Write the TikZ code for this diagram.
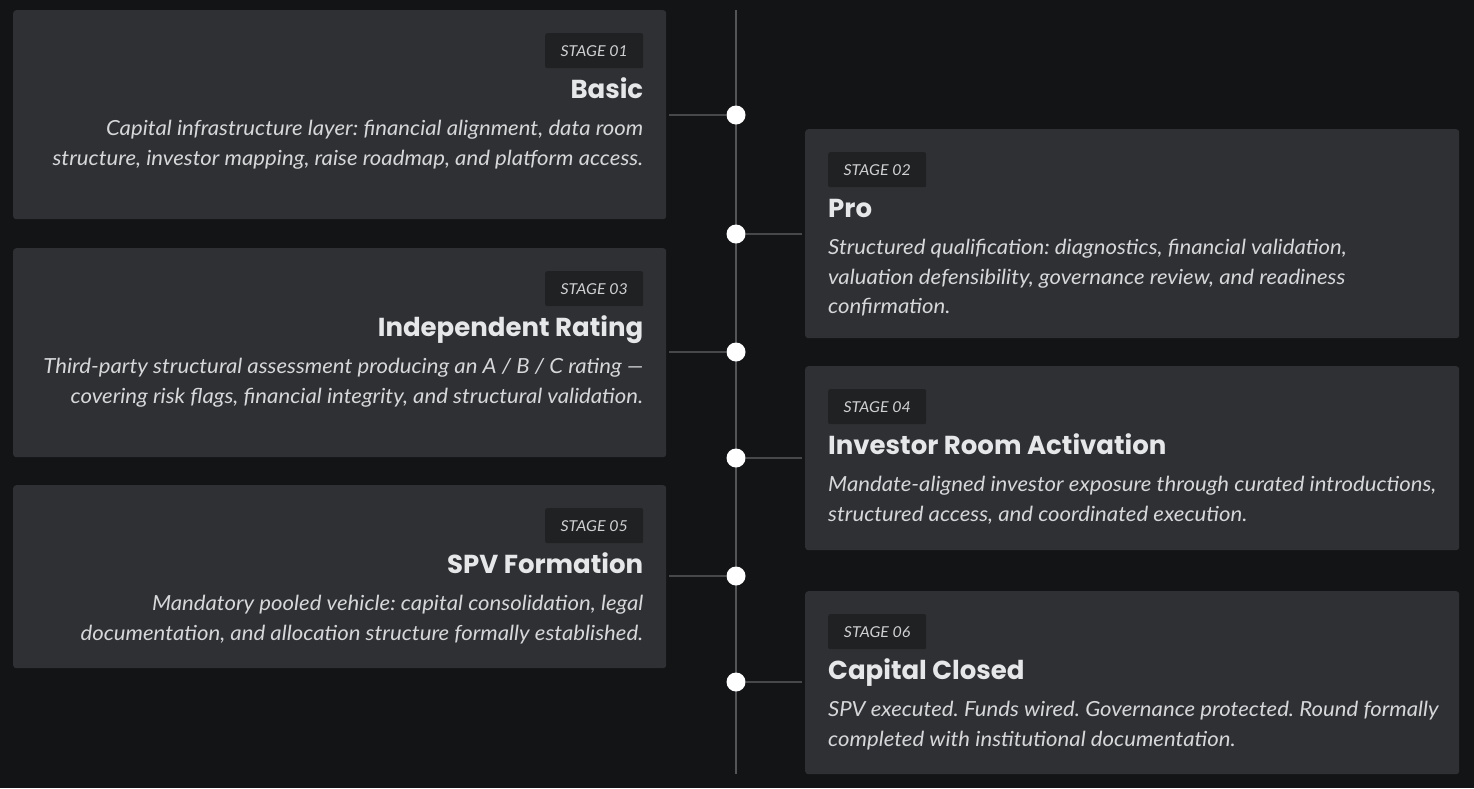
\documentclass[tikz,border=0pt]{standalone}
\usepackage{fontspec}
\setmainfont{Lato}[FakeStretch=1.066]
\newfontfamily\headfont{Poppins}
\usetikzlibrary{positioning}
\definecolor{pagebg}{HTML}{131416}
\definecolor{cardgray}{HTML}{2F3033}
\definecolor{badgegray}{HTML}{202123}
\definecolor{linkgray}{HTML}{47484A}
\definecolor{railgray}{HTML}{545557}
\definecolor{headwhite}{HTML}{E6E7E9}
\definecolor{bodygray}{HTML}{D6D7D9}
\definecolor{badgetext}{HTML}{CFD0D2}
\frenchspacing

\tikzset{
  card/.style={fill=cardgray, rounded corners=3pt, inner sep=0pt, anchor=north west},
  badge/.style={fill=badgegray, rounded corners=2pt, minimum width=98pt, minimum height=35pt,
    inner sep=0pt, text=badgetext, font=\fontsize{15}{18}\selectfont\itshape},
  heading/.style={text=headwhite, inner sep=0pt, font=\headfont\bfseries\fontsize{26}{30}\selectfont},
  blurb/.style={text=bodygray, inner sep=0pt, font=\fontsize{20.8}{29.5}\selectfont\itshape},
  dot/.style={circle, fill=white, minimum size=19pt, inner sep=0pt},
  link/.style={draw=linkgray, line width=2pt}
}

\begin{document}
\begin{tikzpicture}[x=1pt, y=-1pt]
\fill[pagebg] (0,0) rectangle (1474,788);
\useasboundingbox (0,0) rectangle (1474,788);

% cards
\node[card, minimum width=653pt, minimum height=209pt] (c1) at (13,10) {};
\node[card, minimum width=654pt, minimum height=209pt] (c2) at (805,129) {};
\node[card, minimum width=653pt, minimum height=209pt] (c3) at (13,248) {};
\node[card, minimum width=654pt, minimum height=184pt] (c4) at (805,366) {};
\node[card, minimum width=653pt, minimum height=183pt] (c5) at (13,485) {};
\node[card, minimum width=654pt, minimum height=183pt] (c6) at (805,591) {};

% rail
\coordinate (railtop) at (736,10);
\coordinate (railend) at (736,774);
\draw[railgray, line width=2pt] (railtop) -- (railend);

% dots
\node[dot] (d1) at (736,115) {};
\node[dot] (d2) at (736,234) {};
\node[dot] (d3) at (736,352) {};
\node[dot] (d4) at (736,458) {};
\node[dot] (d5) at (736,576) {};
\node[dot] (d6) at (736,682) {};

\draw[link] (d1.west) -- ([xshift=3pt]c1.east |- d1);
\draw[link] (d2.east) -- ([xshift=-3pt]c2.west |- d2);
\draw[link] (d3.west) -- ([xshift=3pt]c3.east |- d3);
\draw[link] (d4.east) -- ([xshift=-3pt]c4.west |- d4);
\draw[link] (d5.west) -- ([xshift=3pt]c5.east |- d5);
\draw[link] (d6.east) -- ([xshift=-3pt]c6.west |- d6);

% stage 01
\node[badge, anchor=north east] (b1) at ([xshift=-23pt, yshift=-23pt]c1.north east) {STAGE 01};
\node[heading, anchor=base east] (h1) at ([xshift=-23pt, yshift=-88pt]c1.north east) {Basic};
\node[blurb, anchor=north east, align=right] (t1) at ([xshift=-23pt, yshift=-110.4pt]c1.north east)
  {Capital infrastructure layer: financial alignment, data room\\
   structure, investor mapping, raise roadmap, and platform access.};

% stage 02
\node[badge, anchor=north west] (b2) at ([xshift=23pt, yshift=-23pt]c2.north west) {STAGE 02};
\node[heading, anchor=base west] (h2) at ([xshift=23pt, yshift=-88pt]c2.north west) {Pro};
\node[blurb, anchor=north west, align=left] (t2) at ([xshift=23pt, yshift=-110.4pt]c2.north west)
  {Structured qualification: diagnostics, financial validation,\\
   valuation defensibility, governance review, and readiness\\
   confirmation.};

% stage 03
\node[badge, anchor=north east] (b3) at ([xshift=-23pt, yshift=-23pt]c3.north east) {STAGE 03};
\node[heading, anchor=base east] (h3) at ([xshift=-23pt, yshift=-88pt]c3.north east) {Independent Rating};
\node[blurb, anchor=north east, align=right] (t3) at ([xshift=-23pt, yshift=-110.4pt]c3.north east)
  {Third-party structural assessment producing an A / B / C rating —\\
   covering risk flags, financial integrity, and structural validation.};

% stage 04
\node[badge, anchor=north west] (b4) at ([xshift=23pt, yshift=-23pt]c4.north west) {STAGE 04};
\node[heading, anchor=base west] (h4) at ([xshift=23pt, yshift=-88pt]c4.north west) {Investor Room Activation};
\node[blurb, anchor=north west, align=left] (t4) at ([xshift=23pt, yshift=-110.4pt]c4.north west)
  {Mandate-aligned investor exposure through curated introductions,\\
   structured access, and coordinated execution.};

% stage 05
\node[badge, anchor=north east] (b5) at ([xshift=-23pt, yshift=-23pt]c5.north east) {STAGE 05};
\node[heading, anchor=base east] (h5) at ([xshift=-23pt, yshift=-88pt]c5.north east) {SPV Formation};
\node[blurb, anchor=north east, align=right] (t5) at ([xshift=-23pt, yshift=-110.4pt]c5.north east)
  {Mandatory pooled vehicle: capital consolidation, legal\\
   documentation, and allocation structure formally established.};

% stage 06
\node[badge, anchor=north west] (b6) at ([xshift=23pt, yshift=-23pt]c6.north west) {STAGE 06};
\node[heading, anchor=base west] (h6) at ([xshift=23pt, yshift=-88pt]c6.north west) {Capital Closed};
\node[blurb, anchor=north west, align=left] (t6) at ([xshift=23pt, yshift=-110.4pt]c6.north west)
  {SPV executed. Funds wired. Governance protected. Round formally\\
   completed with institutional documentation.};
\end{tikzpicture}
\end{document}
